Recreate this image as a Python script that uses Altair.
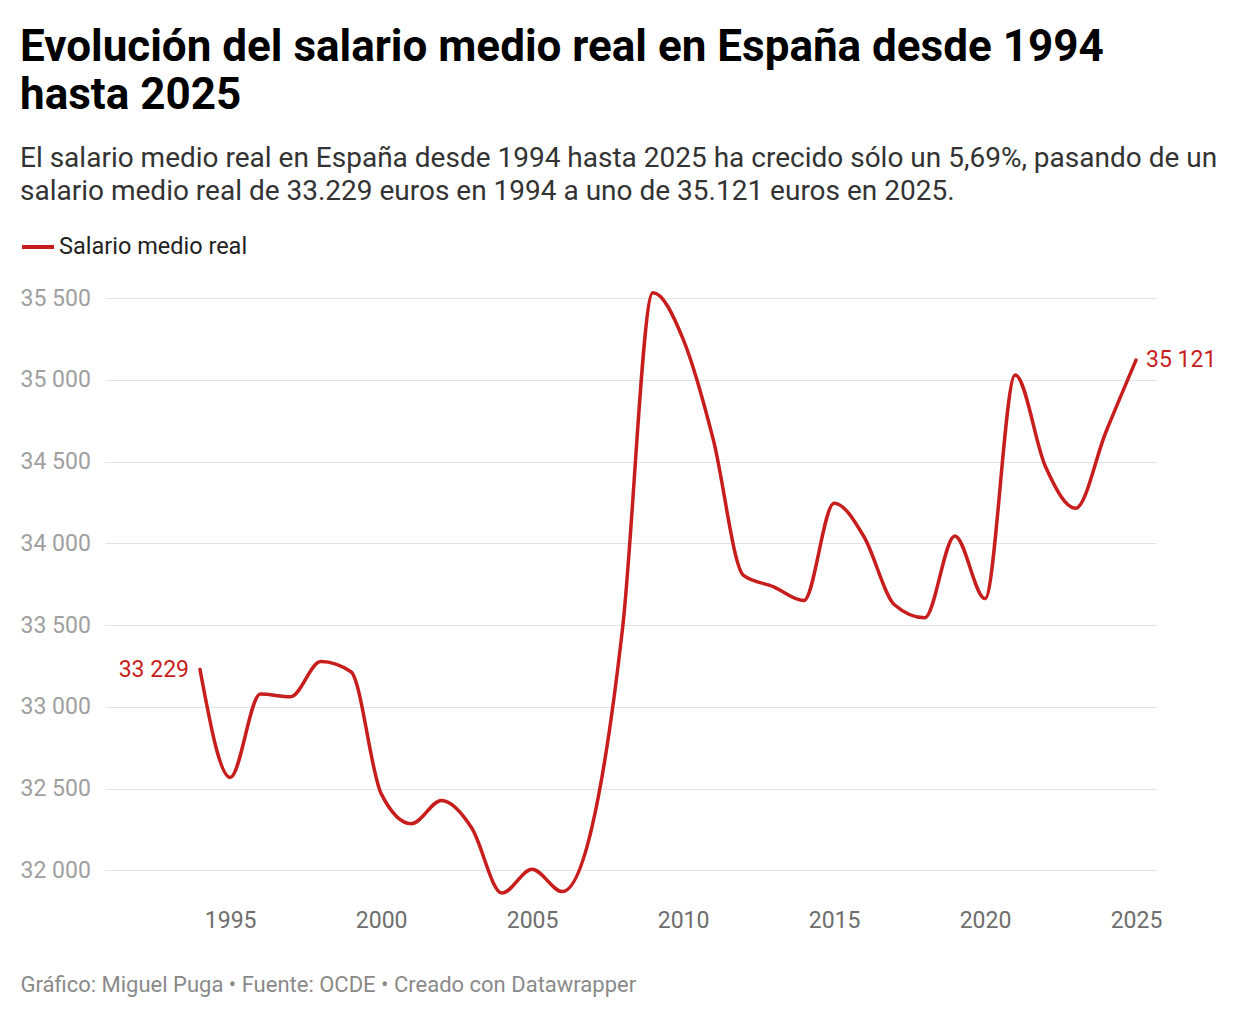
import altair as alt
import pandas as pd

years = list(range(1994, 2026))
salario = [33229, 32569, 33079, 33062, 33278, 33215, 32470, 32286, 32428, 32260,
           31862, 32007, 31871, 32280, 33490, 35533, 35250, 34635, 33805, 33735,
           33651, 34246, 34038, 33625, 33545, 34046, 33663, 35030, 34470, 34215,
           34680, 35121]
serie = "Salario medio real"
y_ticks = [32000, 32500, 33000, 33500, 34000, 34500, 35000, 35500]
x_ticks = [1995, 2000, 2005, 2010, 2015, 2020, 2025]

title_lines = ["Evolución del salario medio real en España desde 1994", "hasta 2025"]
subtitle_lines = [
    "El salario medio real en España desde 1994 hasta 2025 ha crecido sólo un 5,69%, pasando de un",
    "salario medio real de 33.229 euros en 1994 a uno de 35.121 euros en 2025.",
]
footer = "Gráfico: Miguel Puga • Fuente: OCDE • Creado con Datawrapper"

df = pd.DataFrame({"year": years, "value": salario, "serie": serie})

RED = "#c71e1d"
FONT = "Roboto"

xscale = alt.Scale(domain=[1990.854, 2025.662], nice=False, zero=False)
yscale = alt.Scale(domain=[31850, 35550], nice=False, zero=False)

base = alt.Chart(df)

line = base.mark_line(interpolate="monotone", strokeWidth=3.5, strokeCap="round").encode(
    x=alt.X("year:Q", scale=xscale,
            axis=alt.Axis(values=x_ticks, format="d", grid=False, domain=False, ticks=False,
                          tickSize=0, labelPadding=14, labelFontSize=23, labelColor="#6e6e6e",
                          labelFont=FONT, title=footer, titleFont=FONT, titleFontSize=22,
                          titleFontWeight="normal", titleColor="#8a8a8a", titleX=-85, titleY=96,
                          titleAlign="left", titleBaseline="alphabetic")),
    y=alt.Y("value:Q", scale=yscale,
            axis=alt.Axis(values=y_ticks, grid=True, gridColor="#e2e2e2", gridWidth=1.2,
                          domain=False, ticks=False, tickSize=0, labelAlign="left",
                          labelPadding=85, labelFontSize=23, labelColor="#a0a0a0",
                          labelFont=FONT, labelBaseline="middle",
                          labelExpr="replace(format(datum.value, ','), ',', ' ')", title=None)),
    color=alt.Color("serie:N", scale=alt.Scale(range=[RED]),
                    legend=alt.Legend(orient="none", legendX=-85, legendY=-61, title=None,
                                      symbolType="stroke", symbolSize=1024, symbolStrokeWidth=4,
                                      labelFontSize=23.5, labelFont=FONT, labelColor="#222222",
                                      labelOffset=3, labelLimit=0, padding=0)),
)

labels = base.transform_filter(
    (alt.datum.year == 1994) | (alt.datum.year == 2025)
).transform_calculate(
    txt="replace(format(datum.value, ','), ',', ' ')",
    side="datum.year == 1994 ? 'left' : 'right'",
)

start_lbl = labels.transform_filter(alt.datum.side == "left").mark_text(
    align="right", baseline="middle", dx=-11, fontSize=23, font=FONT, color=RED
).encode(x=alt.X("year:Q", scale=xscale), y=alt.Y("value:Q", scale=yscale), text="txt:N")

end_lbl = labels.transform_filter(alt.datum.side == "right").mark_text(
    align="left", baseline="middle", dx=10, fontSize=23, font=FONT, color=RED
).encode(x=alt.X("year:Q", scale=xscale), y=alt.Y("value:Q", scale=yscale), text="txt:N")

chart = alt.layer(line, start_lbl, end_lbl).properties(
    width=1051,
    height=605,
    background="white",
    padding={"left": 12, "top": 18, "right": 10, "bottom": 10},
    title=alt.TitleParams(
        text=title_lines, subtitle=subtitle_lines, anchor="start", frame="bounds",
        font=FONT, fontSize=44, fontWeight="bold", color="#000000", lineHeight=48,
        subtitleFont=FONT, subtitleFontSize=28, subtitleLineHeight=33,
        subtitleColor="#333333", subtitlePadding=27, offset=23,
    ),
).configure_view(strokeWidth=0, stroke="transparent")

chart.save("out.html", embed_options={"renderer": "svg", "actions": False})
